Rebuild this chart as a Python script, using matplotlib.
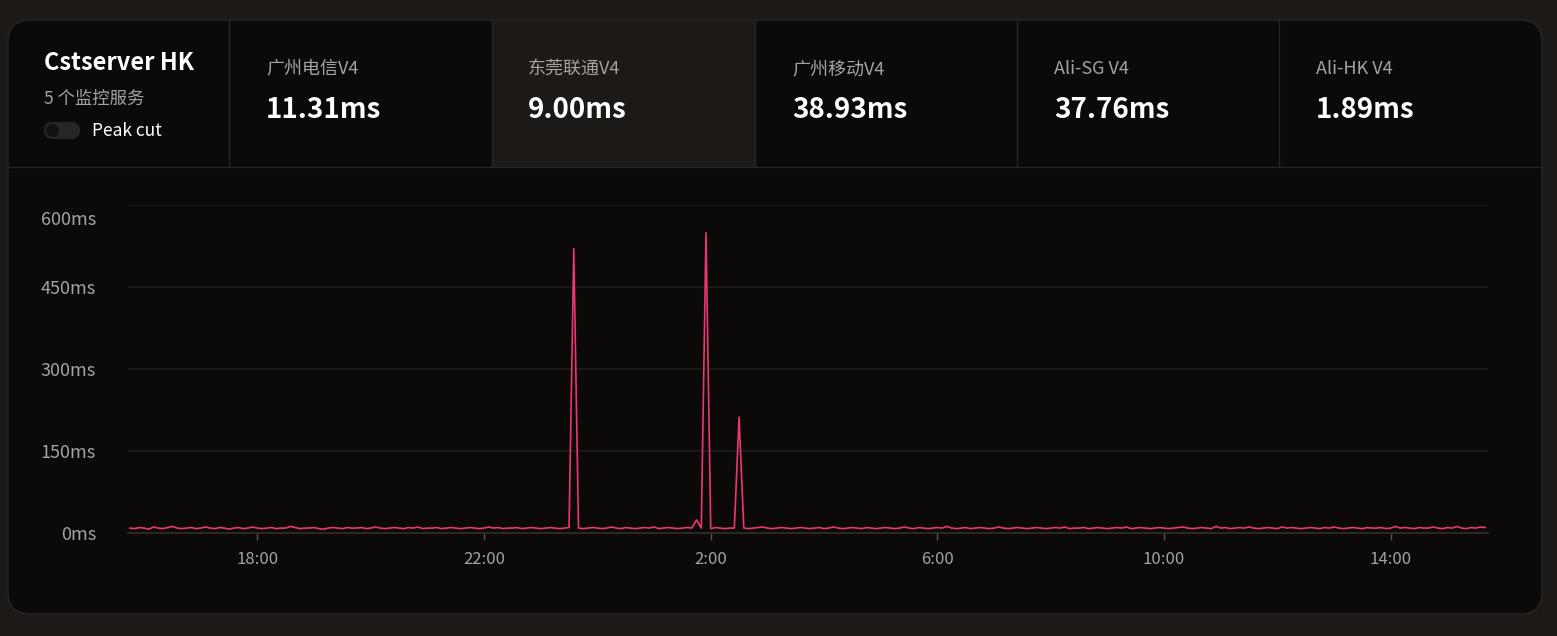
import matplotlib.pyplot as plt
import matplotlib.transforms as mtransforms
from matplotlib.patches import FancyBboxPatch, Rectangle, Circle
from datetime import datetime, timedelta

plt.rcParams['font.family'] = ['Noto Sans CJK SC', 'DejaVu Sans']

# 数据
server_name = "Cstserver HK"
server_sub = "5 个监控服务"
services = ["广州电信V4", "东莞联通V4", "广州移动V4", "Ali-SG V4", "Ali-HK V4"]
service_values = ["11.31ms", "9.00ms", "38.93ms", "37.76ms", "1.89ms"]

start_time = datetime(2024, 1, 1, 15, 45)
step_minutes = 5
latency = [
    9, 8, 10, 9, 7, 11, 9, 8, 10, 12, 9, 8, 9, 10, 8, 9, 11, 9, 8, 10, 9, 7, 9, 10,
    8, 9, 11, 9, 8, 9, 10, 8, 9, 9, 12, 10, 8, 9, 9, 10, 8, 7, 9, 10, 9, 8, 10, 9,
    9, 10, 8, 9, 11, 9, 8, 9, 10, 9, 8, 10, 9, 11, 8, 9, 9, 10, 8, 9, 10, 9, 8, 9,
    10, 9, 8, 9, 11, 9, 10, 8, 9, 9, 10, 8, 9, 10, 9, 8, 9, 10, 9, 8, 9, 10, 520, 9,
    8, 9, 10, 9, 8, 9, 11, 9, 8, 10, 9, 8, 9, 10, 9, 11, 8, 9, 10, 9, 8, 9, 10, 9,
    24, 9, 549, 8, 10, 9, 8, 9, 9, 212, 9, 8, 9, 10, 11, 9, 8, 9, 10, 9, 8, 9, 10, 9,
    8, 9, 10, 8, 9, 11, 9, 8, 9, 10, 9, 8, 10, 9, 8, 9, 10, 9, 8, 9, 11, 9, 8, 10,
    9, 8, 9, 10, 9, 12, 9, 8, 9, 10, 8, 9, 10, 9, 8, 9, 11, 9, 8, 9, 10, 9, 8, 9,
    10, 9, 8, 9, 10, 9, 11, 8, 9, 9, 10, 8, 9, 10, 9, 8, 9, 10, 9, 11, 8, 9, 10, 9,
    8, 9, 10, 9, 8, 9, 10, 11, 9, 8, 9, 10, 9, 8, 12, 9, 10, 8, 9, 10, 9, 11, 9, 8,
    9, 10, 9, 8, 11, 9, 10, 9, 8, 9, 10, 9, 8, 10, 9, 11, 9, 8, 9, 10, 9, 8, 10, 9,
    9, 10, 8, 9, 12, 9, 10, 9, 8, 10, 9, 9, 11, 9, 8, 10, 9, 12, 9, 8, 10, 9, 11, 10,
]
times = [start_time + timedelta(minutes=step_minutes * i) for i in range(len(latency))]

y_ticks = [0, 150, 300, 450, 600]
y_labels = ["0ms", "150ms", "300ms", "450ms", "600ms"]
x_ticks = [datetime(2024, 1, 1, 18), datetime(2024, 1, 1, 22), datetime(2024, 1, 2, 2),
           datetime(2024, 1, 2, 6), datetime(2024, 1, 2, 10), datetime(2024, 1, 2, 14)]
x_labels = ["18:00", "22:00", "2:00", "6:00", "10:00", "14:00"]

# 颜色
BG = "#1c1917"
CARD = "#0c0a09"
BORDER = "#292524"
MUTED = "#a8a29e"
LINE = "#e9386e"

W, H = 1557, 636
fig = plt.figure(figsize=(W / 100, H / 100), dpi=100, facecolor=BG)

# 背景卡片 (像素坐标)
bg = fig.add_axes([0, 0, 1, 1])
bg.set_xlim(0, W)
bg.set_ylim(H, 0)
bg.axis("off")
bg.add_patch(FancyBboxPatch((8, 20), 1534, 594, boxstyle="round,pad=0,rounding_size=22",
                            facecolor=CARD, edgecolor=BORDER, lw=1))
bg.add_patch(Rectangle((492, 20.5), 263, 146.5, facecolor=BG, edgecolor="none"))
for x in [229, 492, 755, 1017, 1279]:
    bg.plot([x, x], [20.5, 167], color=BORDER, lw=1)
bg.plot([8.5, 1541.5], [167, 167], color=BORDER, lw=1)

bg.text(44, 63.5, server_name, color="white", fontsize=17, fontweight="bold", va="center", ha="left")
bg.text(44, 99, server_sub, color=MUTED, fontsize=12.5, va="center", ha="left")
bg.add_patch(FancyBboxPatch((44, 122), 36, 17, boxstyle="round,pad=0,rounding_size=8.5",
                            facecolor=BORDER, edgecolor="none"))
bg.add_patch(Circle((52.5, 130.5), 6.5, facecolor="#141211", edgecolor="none"))
bg.text(92, 131.5, "Peak cut", color="white", fontsize=12.5, va="center", ha="left")

col_x = [266, 528, 792, 1054, 1316]
for cx, name, val in zip(col_x, services, service_values):
    bg.text(cx, 69, name, color=MUTED, fontsize=13, va="center", ha="left")
    bg.text(cx, 110, val, color="white", fontsize=20, fontweight="bold", va="center", ha="left")

# 折线图
ax = fig.add_axes([128 / W, 1 - 533 / H, (1488 - 128) / W, (533 - 205) / H])
ax.set_facecolor("none")
ax.plot(times, latency, color=LINE, lw=1.2)
ax.set_xlim(datetime(2024, 1, 1, 15, 43), datetime(2024, 1, 2, 15, 43))
ax.set_ylim(0, 600)
ax.set_yticks(y_ticks)
ax.set_yticklabels(y_labels)
ax.set_xticks(x_ticks)
ax.set_xticklabels(x_labels)
ax.grid(axis="y", color="#1f1c1a", lw=1.2)
ax.set_axisbelow(True)
for s in ["top", "right", "left"]:
    ax.spines[s].set_visible(False)
ax.spines["bottom"].set_color("#2a2725")
ax.spines["bottom"].set_linewidth(1.5)
ax.tick_params(axis="y", length=0, pad=23, colors=MUTED, labelsize=13)
ax.tick_params(axis="x", length=5, width=1, color="#57534e", pad=8, colors=MUTED, labelsize=12)
for lbl in ax.get_xticklabels() + ax.get_yticklabels():
    lbl.set_color(MUTED)
# 顶部标签下移
top_lbl = ax.get_yticklabels()[-1]
top_lbl.set_transform(top_lbl.get_transform() + mtransforms.ScaledTranslation(0, -13 / 100, fig.dpi_scale_trans))

fig.savefig("out.png", dpi=100, facecolor=BG)
